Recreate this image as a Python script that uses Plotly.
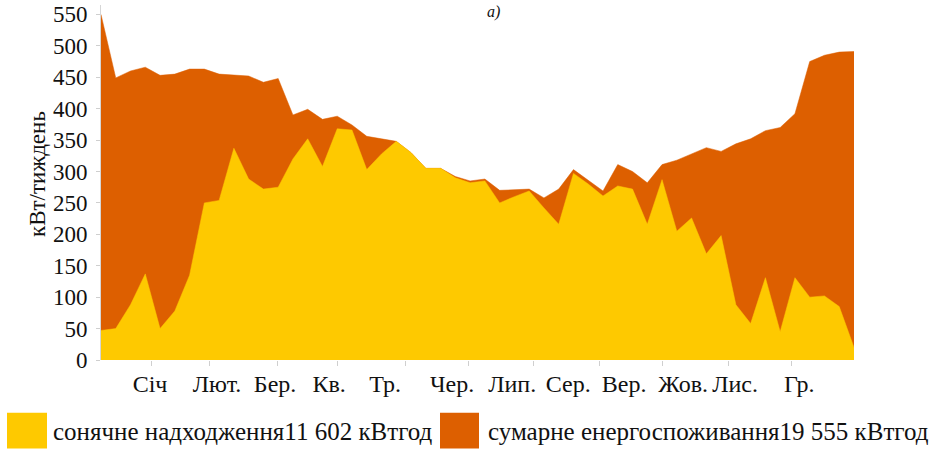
import plotly.graph_objects as go

# Weekly energy balance over one year (kWh per week)
weeks = list(range(52))
consumption = [550, 449, 460, 466, 453, 455, 463, 463, 455, 454,
               452, 442, 448, 390, 399, 383, 388, 374, 356, 352,
               348, 330, 305, 305, 292, 285, 288, 270, 271, 272,
               258, 272, 303, 286, 269, 311, 300, 282, 311, 318,
               328, 338, 332, 344, 352, 365, 370, 392, 475, 485,
               490, 491]
solar = [47, 50, 88, 137, 50, 78, 135, 250, 254, 337,
         288, 272, 275, 320, 352, 308, 368, 366, 303, 328,
         348, 330, 305, 305, 290, 282, 285, 250, 260, 269,
         242, 216, 297, 280, 261, 277, 272, 216, 287, 205,
         226, 169, 198, 88, 58, 131, 45, 131, 100, 102,
         85, 20]

month_labels = ["Січ", "Лют.", "Бер.", "Кв.", "Тр.", "Чер.", "Лип.",
                "Сер.", "Вер.", "Жов.", "Лис.", "Гр."]
month_label_pos = [3.32, 7.86, 11.79, 15.45, 19.24, 23.78, 27.85,
                   31.64, 35.43, 39.43, 42.95, 47.29]
month_tick_pos = [3.45, 7.38, 11.92, 16.05, 20.59, 24.86, 29.26,
                  33.73, 38.0, 42.47, 46.8]
y_ticks = list(range(0, 551, 50))

solar_name = "сонячне надходження11 602 кВтгод"
consumption_name = "сумарне енергоспоживання19 555 кВтгод"
y_title = "кВт/тиждень"

ORANGE = "#DD5F00"
YELLOW = "#FEC900"
FONT = "'Liberation Serif', 'Times New Roman', Times, serif"
INK = "#111111"

W, H = 929, 451
L, R, T, B = 101, 75, 3, 91
PW, PH = W - L - R, H - T - B


def px_x(x):
    return (x - L) / PW


def px_y(y):
    return (H - B - y) / PH


fig = go.Figure()
fig.add_trace(go.Scatter(
    x=weeks, y=consumption, name=consumption_name, mode="lines",
    fill="tozeroy", fillcolor=ORANGE, line=dict(color=ORANGE, width=0.5),
    xaxis="x", yaxis="y", hoverinfo="skip", showlegend=False))
fig.add_trace(go.Scatter(
    x=weeks, y=solar, name=solar_name, mode="lines",
    fill="tozeroy", fillcolor=YELLOW, line=dict(color=YELLOW, width=0.5),
    xaxis="x2", yaxis="y", hoverinfo="skip", showlegend=False))

fig.update_layout(
    width=W, height=H,
    margin=dict(l=L, r=R, t=T, b=B),
    paper_bgcolor="white", plot_bgcolor="white",
    showlegend=False,
    xaxis=dict(range=[0, 51], tickvals=month_tick_pos, ticks="outside",
               ticklen=5, tickcolor="#cfcfcf", showticklabels=False,
               showgrid=False, zeroline=False, showline=False),
    xaxis2=dict(range=[0, 51], overlaying="x", anchor="y", side="bottom",
                tickvals=month_label_pos, ticktext=month_labels, ticks="",
                showgrid=False, zeroline=False, showline=False,
                tickfont=dict(family=FONT, size=24, color=INK),
                ticklabelstandoff=7),
    yaxis=dict(range=[0, 565], tickvals=y_ticks, ticks="outside", ticklen=4,
               tickcolor="#cfcfcf", showline=True, linecolor="#d6d6d6",
               linewidth=1, showgrid=False, zeroline=False,
               tickfont=dict(family=FONT, size=23, color=INK),
               ticklabelstandoff=4),
)

annotations = [
    dict(text=y_title, textangle=-90, x=px_x(37), y=px_y(173),
         xref="paper", yref="paper", xanchor="center", yanchor="middle",
         showarrow=False, font=dict(family=FONT, size=23, color=INK)),
    dict(text="<i>а)</i>", x=px_x(493), y=px_y(-1), xref="paper",
         yref="paper", xanchor="center", yanchor="top", showarrow=False,
         font=dict(family=FONT, size=16, color=INK)),
    dict(text=solar_name, x=px_x(51), y=px_y(432), xref="paper", yref="paper",
         xanchor="left", yanchor="middle", showarrow=False,
         font=dict(family=FONT, size=25, color=INK)),
    dict(text=consumption_name, x=px_x(486), y=px_y(432), xref="paper",
         yref="paper", xanchor="left", yanchor="middle", showarrow=False,
         font=dict(family=FONT, size=25, color=INK)),
]

shapes = [
    dict(type="rect", xref="paper", yref="paper",
         x0=px_x(7), x1=px_x(47), y0=px_y(449), y1=px_y(413),
         fillcolor=YELLOW, line=dict(width=0)),
    dict(type="rect", xref="paper", yref="paper",
         x0=px_x(440), x1=px_x(479), y0=px_y(449), y1=px_y(413),
         fillcolor=ORANGE, line=dict(width=0)),
]

fig.update_layout(annotations=annotations, shapes=shapes)
fig.write_html("out.html")
